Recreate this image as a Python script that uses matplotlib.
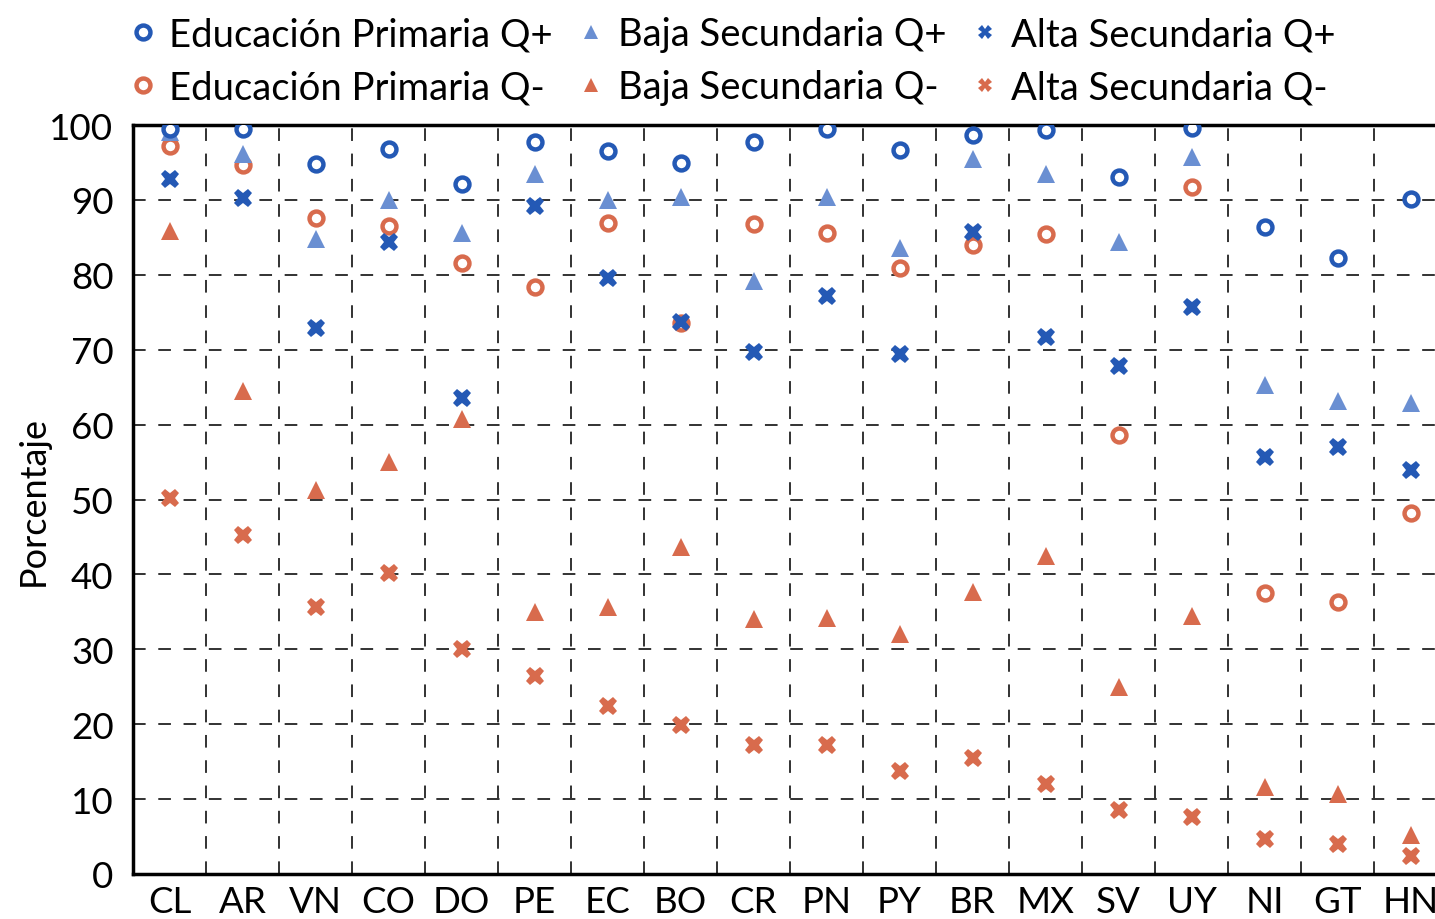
"""
plot.py

porcentaje por pais, nivel educativo y quintil (Q+ / Q-)
"""

import numpy as np
import matplotlib
matplotlib.use("Agg")
import matplotlib.pyplot as plt
from matplotlib.ticker import MultipleLocator, FixedLocator

# paises en el eje x
paises = ["CL", "AR", "VN", "CO", "DO", "PE", "EC", "BO", "CR",
          "PN", "PY", "BR", "MX", "SV", "UY", "NI", "GT", "HN"]

# valores
primaria_qmas = [99.5, 99.5, 94.8, 96.8, 92.1, 97.7, 96.5, 94.9, 97.7,
                 99.5, 96.7, 98.7, 99.3, 93.1, 99.6, 86.4, 82.2, 90.1]
baja_qmas = [99.0, 96.1, 84.8, 90.0, 85.6, 93.5, 90.0, 90.4, 79.2,
             90.4, 83.6, 95.5, 93.5, 84.4, 95.7, 65.3, 63.2, 62.9]
alta_qmas = [92.8, 90.3, 72.9, 84.4, 63.6, 89.2, 79.6, 73.7, 69.7,
             77.2, 69.4, 85.7, 71.7, 67.8, 75.7, 55.7, 57.0, 53.9]
primaria_qmenos = [97.2, 94.7, 87.6, 86.5, 81.6, 78.4, 86.9, 73.6, 86.8,
                   85.6, 80.9, 84.0, 85.4, 58.6, 91.7, 37.5, 36.3, 48.2]
baja_qmenos = [85.8, 64.5, 51.3, 55.0, 60.7, 35.0, 35.6, 43.7, 34.0,
               34.2, 32.0, 37.6, 42.5, 25.0, 34.4, 11.6, 10.7, 5.2]
alta_qmenos = [50.2, 45.3, 35.6, 40.2, 30.0, 26.4, 22.4, 19.9, 17.2,
               17.2, 13.8, 15.5, 12.0, 8.5, 7.6, 4.7, 4.0, 2.4]

azul = "#2459b5"
azul_claro = "#6a8fd2"
naranja = "#d86b4d"

plt.rcParams["font.family"] = ["Lato", "DejaVu Sans"]

fig = plt.figure(figsize=(14.35, 9.2), dpi=100)
# el eje se sale un poco por la derecha, igual que en la imagen original
ax = fig.add_axes([133 / 1435, 45 / 920, 1314 / 1435, 749 / 920])

x = np.arange(len(paises))

# orden pensado para que la leyenda (ncol=3) quede Q+ arriba y Q- abajo
series = [
    (primaria_qmas, "Educación Primaria Q+", "o", azul, 10),
    (primaria_qmenos, "Educación Primaria Q-", "o", naranja, 10),
    (baja_qmas, "Baja Secundaria Q+", "^", azul_claro, 13),
    (baja_qmenos, "Baja Secundaria Q-", "^", naranja, 13),
    (alta_qmas, "Alta Secundaria Q+", "X", azul, 13.5),
    (alta_qmenos, "Alta Secundaria Q-", "X", naranja, 13.5),
]

# dibujar de abajo hacia arriba como en el original
draw_order = [5, 3, 1, 4, 2, 0]
handles = {}
for i in draw_order:
    vals, label, mk, col, ms = series[i]
    if mk == "o":
        h, = ax.plot(x, vals, linestyle="none", marker="o", markersize=ms,
                     markerfacecolor="white", markeredgecolor=col,
                     markeredgewidth=3.2, label=label, zorder=3)
    else:
        h, = ax.plot(x, vals, linestyle="none", marker=mk, markersize=ms,
                     color=col, markeredgewidth=0, label=label, zorder=3)
    handles[i] = h

ax.set_xlim(-0.5, 17.5)
ax.set_ylim(0, 100)
ax.set_xticks(x)
ax.set_xticklabels(paises)
ax.yaxis.set_major_locator(MultipleLocator(10))
ax.xaxis.set_minor_locator(FixedLocator(np.arange(0.5, 17.5, 1)))

ax.grid(axis="y", which="major", color="#222222", linestyle=(0, (7, 7)),
        linewidth=1.3)
ax.grid(axis="x", which="minor", color="#222222", linestyle=(0, (7, 7)),
        linewidth=1.3)
ax.set_axisbelow(True)

ax.tick_params(axis="both", which="both", length=0)
ax.tick_params(axis="y", labelsize=26.5, pad=14)
ax.tick_params(axis="x", labelsize=26.5, pad=8)

for side in ["left", "top", "bottom"]:
    ax.spines[side].set_linewidth(2.5)
ax.spines["right"].set_visible(False)

ax.set_ylabel("Porcentaje", fontsize=26, labelpad=0)

leg = fig.legend([handles[i] for i in range(6)],
                 [series[i][1] for i in range(6)],
                 ncol=3, loc="upper left", bbox_to_anchor=(116 / 1435, 1.0),
                 frameon=False, fontsize=27.5, handlelength=0.5,
                 handletextpad=0.45, columnspacing=0.75, labelspacing=0.45,
                 borderaxespad=0.05)
for h in leg.legend_handles:
    h.set_markersize(10)

fig.savefig("out.png", dpi=100)
